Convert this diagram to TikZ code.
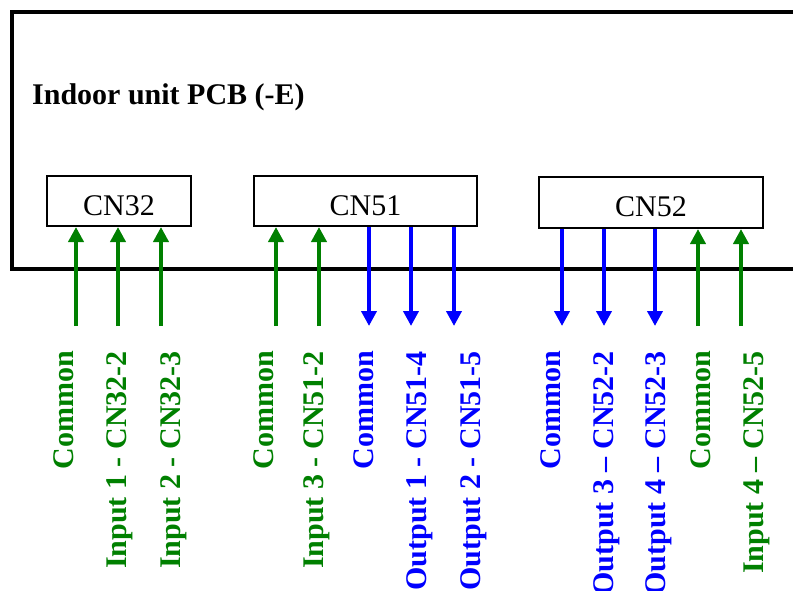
\documentclass[tikz,border=0pt]{standalone}
\usepackage{fontspec}
\setmainfont{Liberation Serif}
\usetikzlibrary{arrows.meta}
\definecolor{ingreen}{RGB}{0,128,0}
\definecolor{outblue}{RGB}{0,0,255}
\tikzset{
  pcb/.style={draw=black, line width=3.5pt},
  conbox/.style={draw=black, line width=2pt, fill=white, inner sep=0pt,
    text height=28pt, text depth=0pt, font=\fontsize{30}{36}\selectfont},
  sig/.style={line width=4.5pt, -{Triangle[width=15pt,length=15pt]}},
  insig/.style={sig, draw=ingreen},
  outsig/.style={sig, draw=outblue},
  lab/.style={rotate=90, anchor=base east, inner sep=0pt,
    font=\bfseries\fontsize{30}{36}\selectfont},
  inlab/.style={lab, text=ingreen},
  outlab/.style={lab, text=outblue},
}
\begin{document}
\begin{tikzpicture}[x=1pt, y=-1pt]
\path[use as bounding box] (0,0) rectangle (793,590);
\clip (0,0) rectangle (793,590);
% PCB outline
\draw[pcb] (12,12) rectangle (810,269);
\node[anchor=base west, inner sep=0pt, font=\bfseries\fontsize{30}{36}\selectfont] (title) at (32,104) {Indoor unit PCB (-E)};
% connectors
\node[conbox, minimum width=144pt, minimum height=50pt] (cn32) at (119,201) {CN32};
\node[conbox, minimum width=223pt, minimum height=50pt] (cn51) at (365.5,201) {CN51};
\node[conbox, minimum width=224pt, minimum height=51pt] (cn52) at (651,202.5) {CN52};
% free ends of signal lines
\foreach \n/\x in {a/76,b/118,c/161,d/276,e/319,f/369,g/411,h/454,i/562,j/604,k/655,l/698,m/741}
  \coordinate (p\n) at (\x,326);
% CN32
\draw[insig] (pa) -- (pa |- cn32.south);
\draw[insig] (pb) -- (pb |- cn32.south);
\draw[insig] (pc) -- (pc |- cn32.south);
% CN51
\draw[insig] (pd) -- (pd |- cn51.south);
\draw[insig] (pe) -- (pe |- cn51.south);
\draw[outsig] (pf |- cn51.south) -- (pf);
\draw[outsig] (pg |- cn51.south) -- (pg);
\draw[outsig] (ph |- cn51.south) -- (ph);
% CN52
\draw[outsig] (pi |- cn52.south) -- (pi);
\draw[outsig] (pj |- cn52.south) -- (pj);
\draw[outsig] (pk |- cn52.south) -- (pk);
\draw[insig] (pl) -- (pl |- cn52.south);
\draw[insig] (pm) -- (pm |- cn52.south);
% labels
\node[inlab] (la) at (73,351) {Common};
\node[inlab] (lb) at (126,351) {Input 1 - CN32-2};
\node[inlab] (lc) at (180,351) {Input 2 - CN32-3};
\node[inlab] (ld) at (273,351) {Common};
\node[inlab] (le) at (323,351) {Input 3 - CN51-2};
\node[outlab] (lf) at (373,351) {Common};
\node[outlab] (lg) at (426,351) {Output 1 - CN51-4};
\node[outlab] (lh) at (480,351) {Output 2 - CN51-5};
\node[outlab] (li) at (560,351) {Common};
\node[outlab] (lj) at (613,351) {Output 3 – CN52-2};
\node[outlab] (lk) at (665,351) {Output 4 – CN52-3};
\node[inlab] (ll) at (710,351) {Common};
\node[inlab] (lm) at (763,351) {Input 4 – CN52-5};
\end{tikzpicture}
\end{document}
